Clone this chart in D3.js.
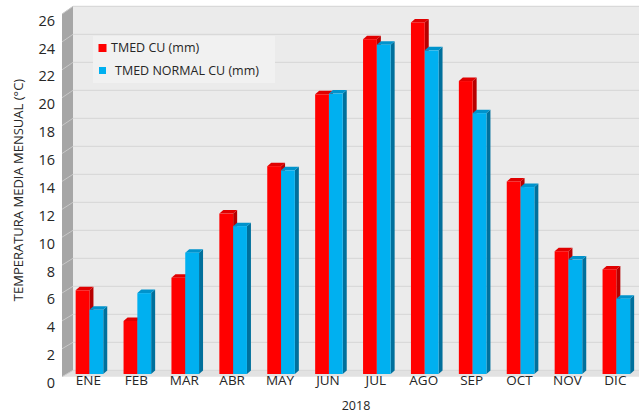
<!DOCTYPE html>
<html><head><meta charset="utf-8">
<script src="https://cdn.jsdelivr.net/npm/d3@7"></script>
<style>body{margin:0;background:#fff}svg{display:block}text{font-family:"Open Sans",sans-serif;fill:#262626}</style>
</head><body><svg id="c" width="639" height="415"></svg>
<script>
const months = ["ENE","FEB","MAR","ABR","MAY","JUN","JUL","AGO","SEP","OCT","NOV","DIC"];
const tmedCU = [6.0,3.8,6.9,11.5,14.9,20.05,24.0,25.2,21.0,13.8,8.8,7.5];
const tmedNormalCU = [4.6,5.8,8.7,10.6,14.6,20.1,23.6,23.2,18.7,13.4,8.2,5.4];
const seriesNames = ["TMED CU (mm)","TMED NORMAL CU (mm)"];
const yTicks = d3.range(0,27,2);
const xTitle = "2018";
const yTitle = "TEMPERATURA MEDIA MENSUAL (°C)";

const svg = d3.select("#c");
const colors = [{front:"#ff0000",top:"#e00000",side:"#b80000"},{front:"#00b0f0",top:"#0093cc",side:"#00709c"}];

// geometry
const frontX = 62, backX = 73;
const yFront = d3.scaleLinear().domain([0,26]).range([376.7,14]);
const yBack = d3.scaleLinear().domain([0,26]).range([370.3,6.3]);
const yBar = d3.scaleLinear().domain([0,26]).range([374,11.3]);
const yLab = d3.scaleLinear().domain([0,26]).range([383,20.5]);
const x = d3.scaleBand().domain(months).range([65.5,640.3]).paddingInner(0.424).paddingOuter(0.212);
const xs = d3.scaleBand().domain([0,1]).range([0,x.bandwidth()]);
const dX = 4, dY = -3.5;

// back wall
svg.append("rect").attr("x",backX).attr("y",yBack(26)).attr("width",639-backX).attr("height",yBack(0)-yBack(26)).attr("fill","#ebebeb");
// floor
svg.append("path").attr("d",`M${frontX},${yFront(0)}L${backX},${yBack(0)}L639,${yBack(0)}L639,${yFront(0)}Z`).attr("fill","#e2e2e2");
// back grid
svg.append("g").selectAll("line").data(yTicks).join("line")
  .attr("x1",backX).attr("x2",639).attr("y1",d=>yBack(d)).attr("y2",d=>yBack(d))
  .attr("stroke","#d9d9d9").attr("stroke-width",1.2);
// side wall
svg.append("path").attr("d",`M${frontX},${yFront(26)}L${backX},${yBack(26)}L${backX},${yBack(0)}L${frontX},${yFront(0)}Z`).attr("fill","#a6a6a6");
svg.append("g").selectAll("line").data(yTicks).join("line")
  .attr("x1",frontX).attr("x2",backX).attr("y1",d=>yFront(d)).attr("y2",d=>yBack(d))
  .attr("stroke","#c8c8c8").attr("stroke-width",1);

// legend
const lg = svg.append("g");
lg.append("rect").attr("x",93).attr("y",36).attr("width",182).attr("height",47).attr("fill","#f1f1f1");
seriesNames.forEach((n,i)=>{
  const yy = i===0?48:71;
  lg.append("rect").attr("x",i===0?98.5:99).attr("y",yy-4).attr("width",i===0?8:7).attr("height",i===0?8:7).attr("fill",colors[i].front);
  lg.append("text").attr("x",i===0?111:115).attr("y",yy).attr("dy","0.35em").attr("font-size","12.5px").text(n);
});

// bars
const data = months.map((m,i)=>({m,vals:[tmedCU[i],tmedNormalCU[i]]}));
const bars = svg.append("g");
data.forEach(d=>{
  d.vals.forEach((v,si)=>{
    const x0 = x(d.m)+xs(si), w = xs.bandwidth(), y0 = yBar(v), yb = yBar(0);
    const c = colors[si];
    bars.append("path").attr("d",`M${x0+w},${y0}L${x0+w+dX},${y0+dY}L${x0+w+dX},${yb+dY}L${x0+w},${yb}Z`).attr("fill",c.side);
    bars.append("path").attr("d",`M${x0},${y0}L${x0+dX},${y0+dY}L${x0+w+dX},${y0+dY}L${x0+w},${y0}Z`).attr("fill",c.top);
    bars.append("rect").attr("x",x0).attr("y",y0).attr("width",w).attr("height",yb-y0).attr("fill",c.front);
  });
});

// axes
const ya = svg.append("g").attr("transform","translate(55,0)")
  .call(d3.axisLeft(yLab).tickValues(yTicks).tickSize(0).tickPadding(0));
ya.select(".domain").remove();
ya.selectAll("text").attr("font-size","14.5px").style("font-family","'Open Sans',sans-serif").attr("fill","#262626");

const xa = svg.append("g").attr("transform","translate(-1,375)")
  .call(d3.axisBottom(x).tickSize(0).tickPadding(0));
xa.select(".domain").remove();
xa.selectAll("text").attr("font-size","13.5px").style("font-family","'Open Sans',sans-serif").attr("fill","#262626").attr("dy","0.71em");

svg.append("text").attr("x",356).attr("y",406).attr("dy","0.35em").attr("text-anchor","middle").attr("font-size","12.5px").text(xTitle);
svg.append("text").attr("transform","translate(18,190) rotate(-90)").attr("dy","0.35em").attr("text-anchor","middle").attr("font-size","13px").text(yTitle);
</script></body></html>
